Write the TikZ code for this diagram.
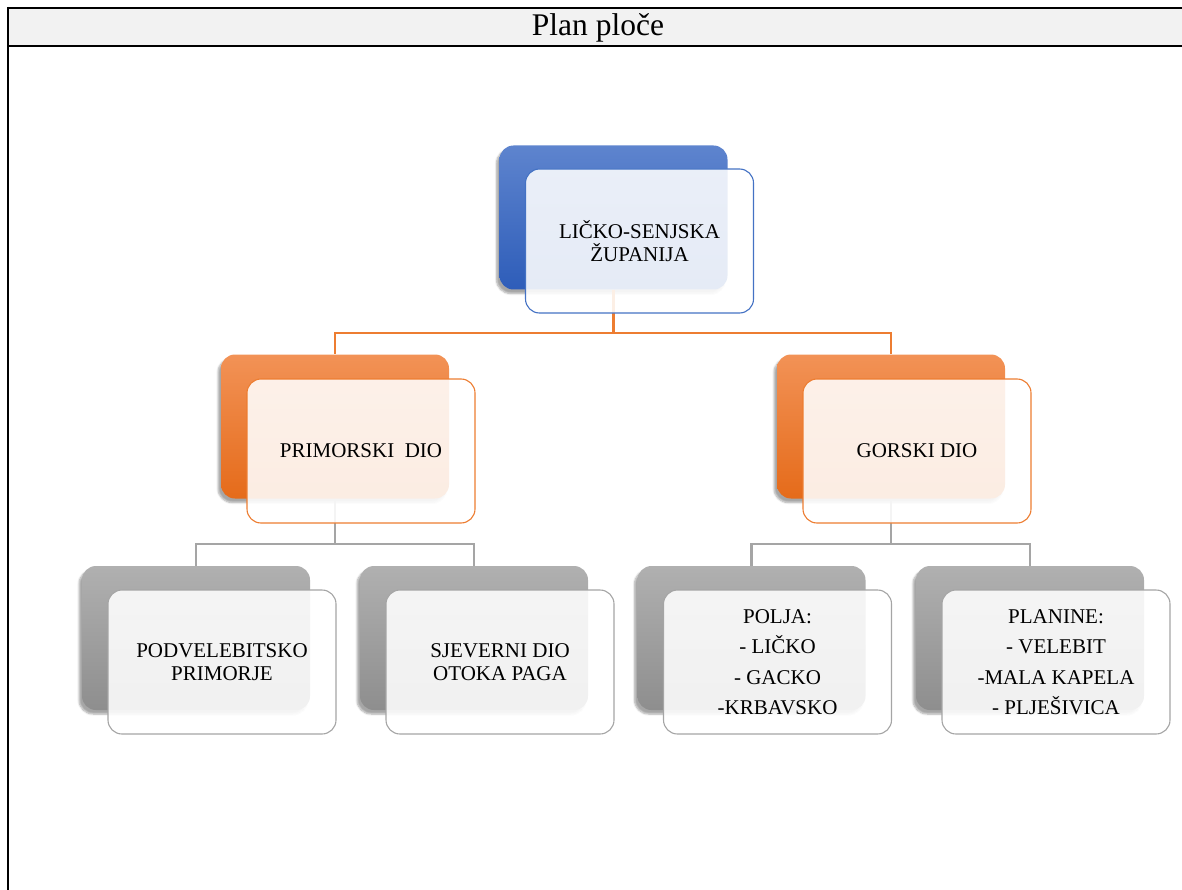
\documentclass[tikz,border=0pt]{standalone}
\usepackage{fontspec}
\setmainfont{Liberation Serif}
\usetikzlibrary{shadows.blur}
\definecolor{blueT}{HTML}{5E84CE}
\definecolor{blueB}{HTML}{2E5DB9}
\definecolor{blueL}{HTML}{4472C4}
\definecolor{orT}{HTML}{F29256}
\definecolor{orB}{HTML}{E56B1A}
\definecolor{orL}{HTML}{ED7D31}
\definecolor{grT}{HTML}{B0B0B0}
\definecolor{grB}{HTML}{8E8E8E}
\definecolor{grL}{HTML}{A5A5A5}
\definecolor{titlebg}{HTML}{F2F2F2}
\tikzset{
  x=1pt, y=-1pt,
  boxbase/.style={rectangle, rounded corners=14pt, minimum width=228pt, minimum height=144pt, inner sep=0pt},
  backbox/.style={boxbase, draw=none, blur shadow={shadow xshift=-3pt, shadow yshift=-4pt, shadow blur steps=6, shadow opacity=35}},
  bluebk/.style={backbox, top color=blueT, bottom color=blueB},
  orbk/.style={backbox, top color=orT, bottom color=orB},
  grbk/.style={backbox, top color=grT, bottom color=grB},
  frontbox/.style={boxbase, fill=white, fill opacity=0.88, text opacity=1, line width=1.1pt, align=center, font=\fontsize{21}{23}\selectfont},
  bluefr/.style={frontbox, draw=blueL},
  orfr/.style={frontbox, draw=orL},
  grfr/.style={frontbox, draw=grL},
  orline/.style={draw=orL, line width=2.5pt},
  grline/.style={draw=grL, line width=2.8pt},
}
\begin{document}
\begin{tikzpicture}
\useasboundingbox (0,0) rectangle (1182,890);
% table
\fill[titlebg] (8,9) rectangle (1182,46);
\draw[line width=2pt] (7,8) -- (1182,8);
\draw[line width=2pt] (7,46.5) -- (1182,46.5);
\draw[line width=2pt] (8,7) -- (8,890);
\node[font=\fontsize{31.5}{34}\selectfont, inner sep=0pt] (title) at (598,28) {Plan ploče};

% coordinates for connector levels
\coordinate (h1) at (0,333);
\coordinate (h2) at (0,544);

% back boxes
\node[bluebk] (b1) at (613.5,217.5) {};
\node[orbk] (b2l) at (335,426.5) {};
\node[orbk] (b2r) at (891,426.5) {};
\node[grbk] (b3a) at (196,638) {};
\node[grbk] (b3b) at (474,638) {};
\node[grbk] (b3c) at (751.5,638) {};
\node[grbk] (b3d) at (1030,638) {};

% connectors
\draw[orline] (b1.south) -- (b1.south |- h1) -| (b2l.north);
\draw[orline] (b1.south |- h1) -| (b2r.north);
\draw[grline] (b2l.south) -- (b2l.south |- h2) -| (b3a.north);
\draw[grline] (b2l.south |- h2) -| (b3b.north);
\draw[grline] (b2r.south) -- (b2r.south |- h2) -| (b3c.north);
\draw[grline] (b2r.south |- h2) -| (b3d.north);

% front boxes
\node[bluefr] (f1) at (639.5,241) {LIČKO-SENJSKA\\ŽUPANIJA};
\node[orfr] (f2l) at (361,451) {PRIMORSKI\ \ DIO};
\node[orfr] (f2r) at (917,451) {GORSKI DIO};
\node[grfr] (f3a) at (222,662) {PODVELEBITSKO\\PRIMORJE};
\node[grfr] (f3b) at (500,662) {SJEVERNI DIO\\OTOKA PAGA};
\node[grfr, font=\fontsize{21}{30.5}\selectfont] (f3c) at (777.5,662) {POLJA:\\- LIČKO\\- GACKO\\-KRBAVSKO};
\node[grfr, font=\fontsize{21}{30.5}\selectfont] (f3d) at (1056,662) {PLANINE:\\- VELEBIT\\-MALA KAPELA\\- PLJEŠIVICA};
\end{tikzpicture}
\end{document}
